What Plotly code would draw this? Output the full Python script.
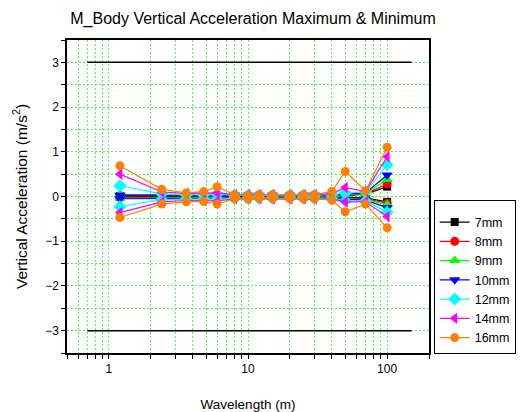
import plotly.graph_objects as go
import math

# ---- data ----
wavelength = [1.2, 2.4, 3.6, 4.8, 6, 8, 10, 12, 15, 20, 25, 30, 40, 50, 70, 100]
series_names = ["7mm", "8mm", "9mm", "10mm", "12mm", "14mm", "16mm"]

max_7mm = [0.01, 0.01, 0.01, 0.01, 0.01, 0.01, 0.01, 0.01, 0.01, 0.01, 0.01, 0.01, 0.01, 0.02, 0.05, 0.22]
min_7mm = [-0.01, -0.01, -0.01, -0.01, -0.01, -0.01, -0.01, -0.01, -0.01, -0.01, -0.01, -0.01, -0.01, -0.02, -0.03, -0.12]
max_8mm = [0.02, 0.02, 0.02, 0.02, 0.02, 0.02, 0.02, 0.02, 0.02, 0.02, 0.02, 0.02, 0.02, 0.03, 0.06, 0.28]
min_8mm = [-0.02, -0.02, -0.02, -0.02, -0.02, -0.02, -0.02, -0.02, -0.02, -0.02, -0.02, -0.02, -0.02, -0.03, -0.05, -0.15]
max_9mm = [0.05, 0.03, 0.03, 0.03, 0.03, 0.02, 0.02, 0.02, 0.02, 0.02, 0.02, 0.02, 0.03, 0.04, 0.07, 0.38]
min_9mm = [-0.04, -0.03, -0.03, -0.03, -0.03, -0.02, -0.02, -0.02, -0.02, -0.02, -0.02, -0.02, -0.03, -0.05, -0.07, -0.18]
max_10mm = [0.03, 0.04, 0.03, 0.03, 0.03, 0.03, 0.03, 0.03, 0.03, 0.03, 0.03, 0.03, 0.03, 0.05, 0.08, 0.48]
min_10mm = [-0.05, -0.05, -0.04, -0.04, -0.04, -0.03, -0.03, -0.03, -0.03, -0.03, -0.03, -0.03, -0.04, -0.06, -0.08, -0.25]
max_12mm = [0.24, 0.06, 0.04, 0.04, 0.05, 0.03, 0.03, 0.03, 0.03, 0.03, 0.03, 0.03, 0.04, 0.08, 0.10, 0.71]
min_12mm = [-0.23, -0.07, -0.06, -0.06, -0.06, -0.04, -0.04, -0.04, -0.04, -0.04, -0.04, -0.04, -0.05, -0.10, -0.10, -0.35]
max_14mm = [0.50, 0.10, 0.07, 0.07, 0.08, 0.04, 0.04, 0.04, 0.04, 0.04, 0.04, 0.04, 0.06, 0.20, 0.11, 0.89]
min_14mm = [-0.36, -0.12, -0.09, -0.09, -0.10, -0.05, -0.05, -0.05, -0.05, -0.05, -0.05, -0.05, -0.06, -0.12, -0.12, -0.45]
max_16mm = [0.69, 0.16, 0.08, 0.11, 0.22, 0.04, 0.03, 0.04, 0.04, 0.04, 0.04, 0.04, 0.11, 0.56, 0.13, 1.10]
min_16mm = [-0.47, -0.17, -0.12, -0.11, -0.17, -0.05, -0.05, -0.04, -0.05, -0.05, -0.05, -0.05, -0.08, -0.34, -0.17, -0.70]

limit_x = [0.7, 150]
limit_upper = [3, 3]
limit_lower = [-3, -3]

maxima = [max_7mm, max_8mm, max_9mm, max_10mm, max_12mm, max_14mm, max_16mm]
minima = [min_7mm, min_8mm, min_9mm, min_10mm, min_12mm, min_14mm, min_16mm]

# ---- styles ----
colors = ["#000000", "#ff0000", "#00ff00", "#0000ff", "#00ffff", "#ff00ff", "#ff8000"]
symbols = ["square", "circle", "triangle-up", "triangle-down", "diamond", "triangle-left", "circle"]
sizes = [8, 9, 10, 10, 10, 10, 9]

FONT = "Liberation Sans, Arial, sans-serif"
GRID = "#44ff44"
GDASH = "2px,2px"

fig = go.Figure()

for lim in (limit_upper, limit_lower):
    fig.add_trace(go.Scatter(x=limit_x, y=lim, mode="lines",
                             line=dict(color="#000000", width=1.5),
                             showlegend=False, hoverinfo="skip"))

for name, mx, mn, c, s, sz in zip(series_names, maxima, minima, colors, symbols, sizes):
    for i, ys in enumerate((mx, mn)):
        fig.add_trace(go.Scatter(
            x=wavelength, y=ys, mode="lines+markers", name=name,
            legendgroup=name, showlegend=(i == 0),
            line=dict(color=c, width=1.2),
            marker=dict(color=c, symbol=s, size=sz, line=dict(width=0)),
        ))

axis_common = dict(
    showline=True, linecolor="#000000", linewidth=1.5, mirror=True,
    ticks="outside", ticklen=4, tickwidth=1, tickcolor="#000000",
    showgrid=True, gridcolor=GRID, griddash=GDASH, gridwidth=1,
    zeroline=False, automargin=False,
    tickfont=dict(family=FONT, size=12, color="#000000"),
)

fig.update_xaxes(
    type="log", range=[math.log10(0.5), math.log10(200)], dtick=1,
    minor=dict(ticks="outside", ticklen=4, tickcolor="#000000",
               showgrid=True, gridcolor=GRID, griddash=GDASH, gridwidth=1),
    title=dict(text="Wavelength (m)", font=dict(family=FONT, size=13.5, color="#000000"), standoff=24),
    **axis_common,
)
fig.update_yaxes(
    range=[-3.5, 3.5], tick0=0, dtick=1,
    minor=dict(dtick=0.5, ticks="outside", ticklen=4, tickcolor="#000000",
               showgrid=True, gridcolor=GRID, griddash=GDASH, gridwidth=1),
    title=dict(text="Vertical Acceleration (m/s<sup>2</sup>)", font=dict(family=FONT, size=15.5, color="#000000"), standoff=14),
    **axis_common,
)

fig.update_layout(
    width=528, height=412,
    margin=dict(l=67, r=89, t=40, b=59),
    paper_bgcolor="#ffffff", plot_bgcolor="#ffffff",
    title=dict(text="M_Body Vertical Acceleration Maximum & Minimum",
               font=dict(family=FONT, size=16, color="#000000"),
               x=(67 + 439) / 2 / 528, xanchor="center",
               y=1 - 18 / 412, yanchor="middle"),
    legend=dict(x=1.013, y=0.489, xanchor="left", yanchor="top",
                bordercolor="#000000", borderwidth=1, bgcolor="#ffffff",
                font=dict(family=FONT, size=12.5, color="#000000"),
                title=dict(text=" ", font=dict(family=FONT, size=5)),
                tracegroupgap=0, itemwidth=30),
    showlegend=True,
)

fig.write_html("out.html")
